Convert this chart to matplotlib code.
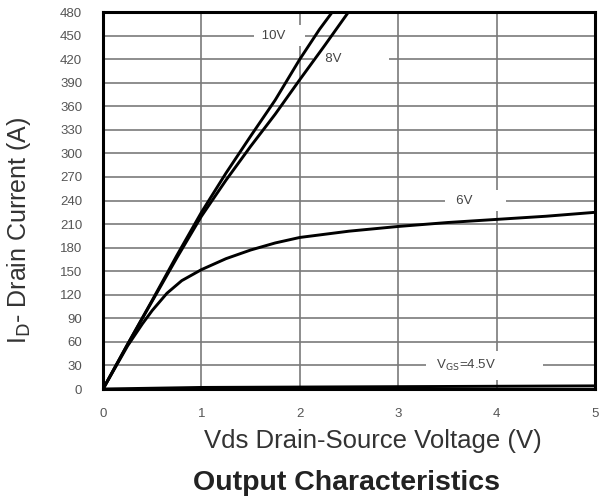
import numpy as np
import matplotlib
matplotlib.use('Agg')
import matplotlib.pyplot as plt

plt.rcParams['font.family'] = ['Liberation Sans', 'DejaVu Sans']

# drain-source voltage (V) / drain current (A)
v10 = [0, 0.25, 0.5, 0.75, 1.0, 1.25, 1.5, 1.75, 2.0, 2.2, 2.33]
i10 = [0, 57, 113, 170, 225, 275, 322, 368, 420, 458, 480]

v8 = [0, 0.25, 0.5, 0.75, 1.0, 1.25, 1.5, 1.75, 2.0, 2.25, 2.5]
i8 = [0, 57, 112, 167, 220, 266, 309, 350, 394, 437, 481]

v6 = [0, 0.25, 0.4, 0.5, 0.65, 0.8, 1.0, 1.25, 1.5, 1.75, 2.0, 2.5, 3.0, 3.5, 4.0, 4.5, 5.0]
i6 = [0, 55, 83, 100, 122, 138, 152, 166, 177, 186, 193, 201, 207, 212, 216, 220, 225]

v45 = [0, 0.5, 1, 2, 3, 4, 5]
i45 = [0, 1, 2, 2.5, 3, 3.5, 4]

xticks = [0, 1, 2, 3, 4, 5]
yticks = list(range(0, 481, 30))

fig = plt.figure(figsize=(6, 5.03), dpi=100)
ax = fig.add_axes([0.1717, 0.2266, 0.82, 0.7494])

ax.set_xlim(0, 5)
ax.set_ylim(0, 480)
ax.set_xticks(xticks)
ax.set_yticks(yticks)
ax.grid(True, color='#7a7a7a', lw=1.2)
ax.set_axisbelow(True)
ax.tick_params(length=0, labelsize=9.5, labelcolor='#555555')
ax.tick_params(axis='x', pad=14)
ax.tick_params(axis='y', pad=15)
for s in ax.spines.values():
    s.set_linewidth(2.2)
    s.set_color('black')

for v, i in [(v10, i10), (v8, i8), (v6, i6), (v45, i45)]:
    ax.plot(v, i, color='black', lw=2.1, zorder=4)

box = dict(facecolor='white', edgecolor='none', pad=3)
lab = dict(fontsize=9.5, color='#444444', va='center', zorder=3)
ax.text(1.58, 450, ' 10V    ', ha='left', bbox=box, **lab)
ax.text(2.18, 420, '  8V            ', ha='left', bbox=box, **lab)
ax.text(3.52, 240, '  6V        ', ha='left', bbox=box, **lab)
ax.text(3.35, 30, ' V$_\\mathrm{GS}$=4.5V            ', ha='left',
        bbox=dict(facecolor='white', edgecolor='none', pad=5), **lab)

fig.text(0.6217, 0.1233, 'Vds Drain-Source Voltage (V)', fontsize=18.5,
         color='#333333', ha='center', va='center')
fig.text(0.032, 0.543, 'I$_\\mathrm{D}$- Drain Current (A)', fontsize=18, color='#333333',
         ha='center', va='center', rotation=90)
fig.text(0.5767, 0.0398, 'Output Characteristics', fontsize=20.5, fontweight='bold',
         color='#222222', ha='center', va='center')

fig.savefig('out.png', dpi=100)
